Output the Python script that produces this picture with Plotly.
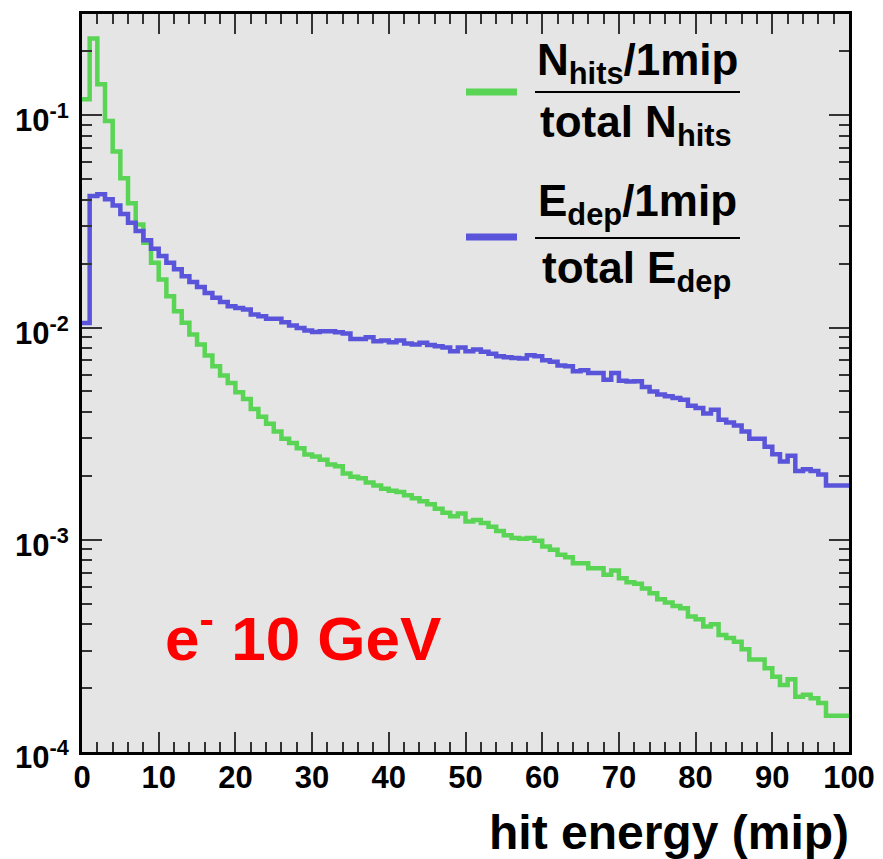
import numpy as np
import plotly.graph_objects as go

# ---- data ----
bin_edges = list(range(0, 101))  # hit energy bins (mip), width 1

nhits_frac = [
    0.119, 0.230, 0.140, 0.094, 0.0675, 0.0505, 0.0385, 0.0306, 0.0251, 0.0202,
    0.01683, 0.01405, 0.01194, 0.01052, 0.00927, 0.00832, 0.00738, 0.00657, 0.00594, 0.00548,
    0.00495, 0.0046, 0.00413, 0.0038, 0.00352, 0.00324, 0.00299, 0.00286, 0.0027, 0.00252,
    0.00247, 0.00238, 0.00226, 0.00222, 0.00205, 0.00198, 0.00195, 0.00186, 0.00180, 0.00174,
    0.00170, 0.00168, 0.00162, 0.00157, 0.00152, 0.00147, 0.00140, 0.00134, 0.00129, 0.00133,
    0.00122, 0.00124, 0.00120, 0.00115, 0.00110, 0.00105, 0.00102, 0.00101, 0.00102, 0.00099,
    0.00093, 0.000897, 0.00085, 0.000828, 0.000776, 0.000776, 0.000735, 0.000735, 0.000684, 0.000716,
    0.000659, 0.00063, 0.00062, 0.00059, 0.00056, 0.000525, 0.000506, 0.000488, 0.000476, 0.000435,
    0.000422, 0.00039, 0.0004, 0.000356, 0.000344, 0.000331, 0.000305, 0.000273, 0.000273, 0.000248,
    0.000226, 0.000207, 0.00022, 0.000182, 0.000186, 0.000179, 0.00017, 0.000148, 0.000148, 0.000148,
]

edep_frac = [
    0.0105, 0.0416, 0.0424, 0.0402, 0.0376, 0.0343, 0.0312, 0.0285, 0.0258, 0.0235,
    0.0217, 0.0202, 0.0188, 0.01746, 0.0164, 0.0155, 0.01456, 0.0138, 0.0132, 0.0126,
    0.01235, 0.01216, 0.01151, 0.0113, 0.01101, 0.01101, 0.01058, 0.01021, 0.00995, 0.00967,
    0.00953, 0.0096, 0.0096, 0.0095, 0.00937, 0.00884, 0.00884, 0.00899, 0.00861, 0.00868,
    0.00853, 0.00868, 0.0084, 0.00832, 0.00848, 0.00828, 0.00816, 0.00805, 0.00773, 0.00806,
    0.00773, 0.00787, 0.00768, 0.00753, 0.00732, 0.00724, 0.00718, 0.00714, 0.0074, 0.00732,
    0.00701, 0.00689, 0.00662, 0.00657, 0.00622, 0.00629, 0.0061, 0.0061, 0.00568, 0.0061,
    0.00562, 0.00556, 0.00558, 0.00525, 0.0050, 0.00483, 0.00474, 0.00465, 0.00457, 0.00428,
    0.00418, 0.00393, 0.0041, 0.00368, 0.00357, 0.00345, 0.00324, 0.00299, 0.00299, 0.00274,
    0.00253, 0.00234, 0.00249, 0.00211, 0.00215, 0.00211, 0.00203, 0.0018, 0.0018, 0.0018,
]

x_ticks = list(range(0, 101, 10))
y_tickvals = [1e-4, 1e-3, 1e-2, 1e-1]
y_ticktext = ["10<sup>-4</sup>", "10<sup>-3</sup>", "10<sup>-2</sup>", "10<sup>-1</sup>"]

GREEN = "#59d454"
BLUE = "#5954d9"
W, H = 883, 859
ML, MR, MT, MB = 82, 34, 14, 107
PW, PH = W - ML - MR, H - MT - MB


def px2x(px):
    return (px - ML) / PW


def px2y(py):
    return (H - MB - py) / PH


fig = go.Figure()
for vals, col in [(nhits_frac, GREEN), (edep_frac, BLUE)]:
    fig.add_trace(go.Scatter(
        x=bin_edges, y=vals + [vals[-1]], mode="lines",
        line=dict(color=col, width=4.5, shape="hv"), showlegend=False,
        hoverinfo="skip"))

bold = "Liberation Sans"
fig.update_layout(
    width=W, height=H, margin=dict(l=ML, r=MR, t=MT, b=MB, autoexpand=False),
    paper_bgcolor="white", plot_bgcolor="#e5e5e5",
    showlegend=False,
    xaxis=dict(range=[0, 100], tickvals=x_ticks, ticks="inside", ticklen=20,
               tickwidth=2, tickcolor="#333", showline=True, linewidth=3,
               linecolor="black", mirror="allticks", showgrid=False, zeroline=False,
               automargin=False, ticklabelstandoff=-4,
               tickfont=dict(family=bold, size=31, color="black", weight="bold"),
               minor=dict(dtick=2, ticks="inside", ticklen=10, tickwidth=2,
                          tickcolor="#333", showgrid=False)),
    yaxis=dict(type="log", range=[-4, np.log10(0.3)], tickvals=y_tickvals,
               showticklabels=False, ticks="inside", ticklen=20, tickwidth=2,
               tickcolor="#333", showline=True, linewidth=3, linecolor="black",
               mirror="allticks", showgrid=False, zeroline=False,
               automargin=False,
               minor=dict(dtick="D1", ticks="inside", ticklen=10, tickwidth=2,
                          tickcolor="#333", showgrid=False)),
)

# y-axis tick labels placed at the axis tick values
for v, t in zip(y_tickvals, y_ticktext):
    fig.add_annotation(text=t, x=px2x(71), y=np.log10(v), xref="paper", yref="y",
                       showarrow=False, xanchor="right", yanchor="middle", yshift=-3,
                       font=dict(family=bold, size=31, color="black", weight="bold"))

ann_font = dict(family=bold, size=44, color="black", weight="bold")
annos = [
    ("N<sub>hits</sub>/1mip", 637, 63),
    ("total N<sub>hits</sub>", 636, 125),
    ("E<sub>dep</sub>/1mip", 637, 204),
    ("total E<sub>dep</sub>", 636, 271),
]
for txt, cx, cy in annos:
    fig.add_annotation(text=txt, x=px2x(cx), y=px2y(cy), xref="paper", yref="paper",
                       showarrow=False, xanchor="center", yanchor="middle", font=ann_font)

for yl in [92, 238]:
    fig.add_shape(type="line", xref="paper", yref="paper", x0=px2x(535), x1=px2x(740),
                  y0=px2y(yl), y1=px2y(yl), line=dict(color="black", width=2))
for yl, col in [(92, GREEN), (237, BLUE)]:
    fig.add_shape(type="line", xref="paper", yref="paper", x0=px2x(466), x1=px2x(517),
                  y0=px2y(yl), y1=px2y(yl), line=dict(color=col, width=7))

fig.add_annotation(text="e<sup>-</sup> 10 GeV", x=px2x(163), y=px2y(634), xref="paper",
                   yref="paper", showarrow=False, xanchor="left", yanchor="middle",
                   font=dict(family=bold, size=62, color="red", weight="bold"))

fig.add_annotation(text="hit energy (mip)", x=px2x(851), y=px2y(832), xref="paper",
                   yref="paper", showarrow=False, xanchor="right", yanchor="middle",
                   font=dict(family=bold, size=48, color="black", weight="bold"))

fig.write_html("out.html")
